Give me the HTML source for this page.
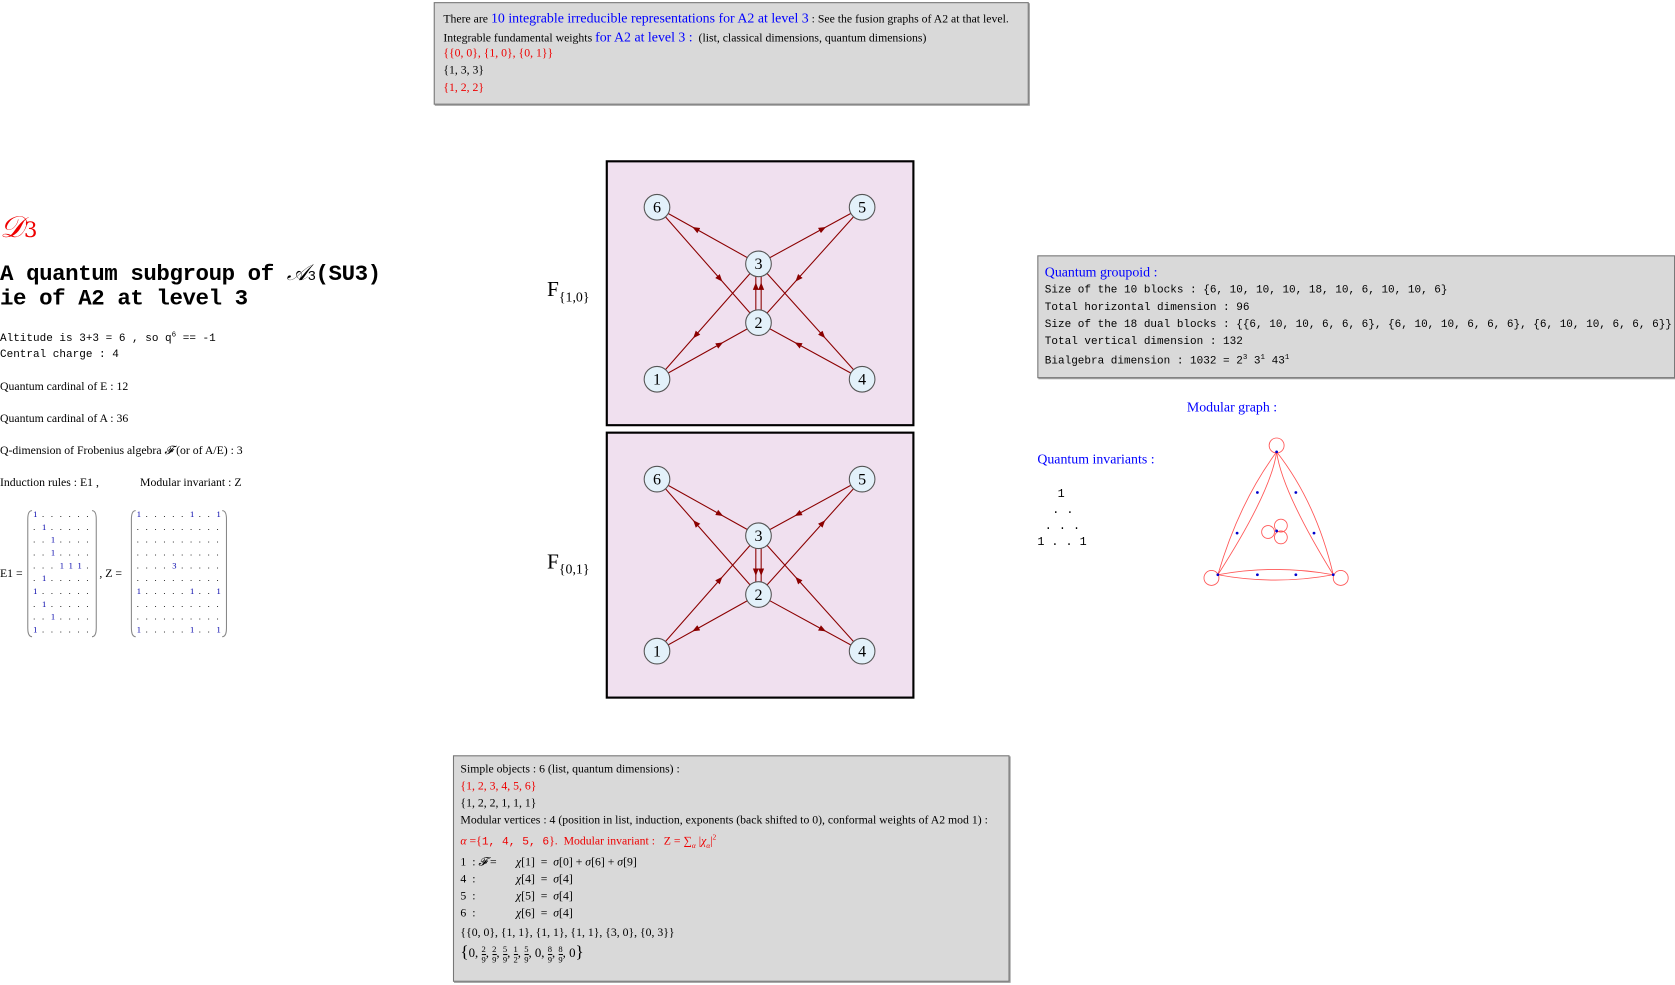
<!DOCTYPE html>
<html><head><meta charset="utf-8"><style>
html,body{margin:0;padding:0;background:#fff;width:1675px;height:985px;overflow:hidden}
#wrap{position:absolute;left:0;top:0;width:1568px;height:922px;transform:scale(1.0683);transform-origin:0 0;font-family:"Liberation Serif",serif;font-size:11px;color:#000}
.a{position:absolute;white-space:nowrap}
.box{position:absolute;background:#d9d9d9;border:1px solid #777;box-shadow:1px 1px 0 #999}
.m{font-family:"Liberation Mono",monospace}
.r{color:#e00}.b{color:#00f}
.gb{position:absolute;background:#f0e0ef;border:2px solid #000}
.fr{display:inline-block;vertical-align:middle;text-align:center;font-size:8px;line-height:9px}
.fr span{display:block}
</style></head><body>
<div id="wrap">

<div class="box" style="left:406px;top:2px;width:555px;height:94px">
 <div class="a" style="left:8px;top:6px">There are <span class="b" style="font-size:13px">10 integrable irreducible representations for A2 at level 3</span> : See the fusion graphs of A2 at that level.</div>
 <div class="a" style="left:8px;top:24px">Integrable fundamental weights <span class="b" style="font-size:13px">for A2 at level 3 :</span> &nbsp;(list, classical dimensions, quantum dimensions)</div>
 <div class="a r" style="left:8px;top:41px">{{0, 0}, {1, 0}, {0, 1}}</div>
 <div class="a" style="left:8px;top:57px">{1, 3, 3}</div>
 <div class="a r" style="left:8px;top:73px">{1, 2, 2}</div>
</div>

<div class="a r" style="left:0;top:196px;font-size:28px;font-style:italic;font-family:'DejaVu Serif',serif">𝒟<span style="font-size:20px;font-style:normal">3</span></div>
<div class="a m" style="left:0;top:243px;font-size:21px;font-weight:bold;letter-spacing:-0.4px">A quantum subgroup of <i style="font-family:'Liberation Serif',serif;font-weight:normal">𝒜</i><span style="font-size:13px;font-weight:normal">3</span>(SU3)</div>
<div class="a m" style="left:0;top:269px;font-size:21px;font-weight:bold;letter-spacing:-0.4px">ie of A2 at level 3</div>
<div class="a m" style="left:0;top:310px;font-size:10.3px">Altitude is 3+3 = 6 , so q<sup style="font-size:7px">6</sup> == -1</div>
<div class="a m" style="left:0;top:326px;font-size:10.3px">Central charge : 4</div>
<div class="a" style="left:0;top:356px">Quantum cardinal of E : 12</div>
<div class="a" style="left:0;top:386px">Quantum cardinal of A : 36</div>
<div class="a" style="left:0;top:416px">Q-dimension of Frobenius algebra <i>𝓕</i> (or of A/E) : 3</div>
<div class="a" style="left:0;top:446px">Induction rules : E1 , &nbsp;&nbsp;&nbsp;&nbsp;&nbsp;&nbsp;&nbsp;&nbsp;&nbsp;&nbsp;&nbsp;&nbsp;&nbsp;Modular invariant : Z</div>

<svg class="a" style="left:0;top:474px" width="230" height="126" id="mats"></svg>

<div class="gb" style="left:567px;top:150px;width:285px;height:245px"></div>
<div class="gb" style="left:567px;top:404px;width:285px;height:246px"></div>
<div class="a" style="left:512px;top:260px;font-size:20px">F<sub style="font-size:13px">{1,0}</sub></div>
<div class="a" style="left:512px;top:515px;font-size:20px">F<sub style="font-size:13px">{0,1}</sub></div>
<svg class="a" style="left:0;top:0" width="1568" height="922" id="graphs"></svg>

<div class="box" style="left:971px;top:239px;width:595px;height:113px">
 <div class="a b" style="left:6px;top:7px;font-size:13px">Quantum groupoid :</div>
 <div class="a m" style="left:6px;top:26px;font-size:10.3px">Size of the 10 blocks : {6, 10, 10, 10, 18, 10, 6, 10, 10, 6}</div>
 <div class="a m" style="left:6px;top:42px;font-size:10.3px">Total horizontal dimension : 96</div>
 <div class="a m" style="left:6px;top:58px;font-size:10.3px">Size of the 18 dual blocks : {{6, 10, 10, 6, 6, 6}, {6, 10, 10, 6, 6, 6}, {6, 10, 10, 6, 6, 6}}</div>
 <div class="a m" style="left:6px;top:74px;font-size:10.3px">Total vertical dimension : 132</div>
 <div class="a m" style="left:6px;top:91px;font-size:10.3px">Bialgebra dimension : 1032 = 2<sup style="font-size:7px">3</sup> 3<sup style="font-size:7px">1</sup> 43<sup style="font-size:7px">1</sup></div>
</div>
<div class="a b" style="left:1111px;top:373px;font-size:13px">Modular graph :</div>
<div class="a b" style="left:971px;top:422px;font-size:13px">Quantum invariants :</div>
<div class="a m" style="left:990px;top:457px">1</div>
<div class="a m" style="left:985px;top:472px">. .</div>
<div class="a m" style="left:978px;top:487px">. . .</div>
<div class="a m" style="left:971px;top:502px">1 . . 1</div>

<div class="box" style="left:424px;top:707px;width:519px;height:210px">
 <div class="a" style="left:6px;top:6px">Simple objects : 6 (list, quantum dimensions) :</div>
 <div class="a r" style="left:6px;top:22px">{1, 2, 3, 4, 5, 6}</div>
 <div class="a" style="left:6px;top:38px">{1, 2, 2, 1, 1, 1}</div>
 <div class="a" style="left:6px;top:54px">Modular vertices : 4 (position in list, induction, exponents (back shifted to 0), conformal weights of A2 mod 1) :</div>
 <div class="a r" style="left:6px;top:72px"><i>α</i> ={<span class="m" style="font-size:10.5px">1, 4, 5, 6</span>}. &nbsp;Modular invariant : &nbsp; Z = ∑<sub style="font-size:7px"><i>α</i></sub> |<i>χ</i><sub style="font-size:7px"><i>α</i></sub>|<sup style="font-size:7px">2</sup></div>
 <div class="a" style="left:6px;top:93px">1 &nbsp;: <i>𝓕</i> =</div>
 <div class="a" style="left:6px;top:109px">4 &nbsp;:</div>
 <div class="a" style="left:6px;top:125px">5 &nbsp;:</div>
 <div class="a" style="left:6px;top:141px">6 &nbsp;:</div>
 <div class="a" style="left:58px;top:93px"><i>χ</i>[1] &nbsp;= &nbsp;<i>σ</i>[0] + <i>σ</i>[6] + <i>σ</i>[9]</div>
 <div class="a" style="left:58px;top:109px"><i>χ</i>[4] &nbsp;= &nbsp;<i>σ</i>[4]</div>
 <div class="a" style="left:58px;top:125px"><i>χ</i>[5] &nbsp;= &nbsp;<i>σ</i>[4]</div>
 <div class="a" style="left:58px;top:141px"><i>χ</i>[6] &nbsp;= &nbsp;<i>σ</i>[4]</div>
 <div class="a" style="left:6px;top:159px">{{0, 0}, {1, 1}, {1, 1}, {1, 1}, {3, 0}, {0, 3}}</div>
 <div class="a" style="left:6px;top:175px;font-size:12px"><span style="font-size:16px">{</span>0, <span class="fr"><span style="border-bottom:1px solid #000">2</span><span>9</span></span>, <span class="fr"><span style="border-bottom:1px solid #000">2</span><span>9</span></span>, <span class="fr"><span style="border-bottom:1px solid #000">5</span><span>9</span></span>, <span class="fr"><span style="border-bottom:1px solid #000">1</span><span>2</span></span>, <span class="fr"><span style="border-bottom:1px solid #000">5</span><span>9</span></span>, 0, <span class="fr"><span style="border-bottom:1px solid #000">8</span><span>9</span></span>, <span class="fr"><span style="border-bottom:1px solid #000">8</span><span>9</span></span>, 0<span style="font-size:16px">}</span></div>
</div>
</div>
<script>
const NS='http://www.w3.org/2000/svg';
function mk(p,t,a){const e=document.createElementNS(NS,t);for(const k in a)e.setAttribute(k,a[k]);p.appendChild(e);return e;}
const E1rows=["1......",".1.....","..1....","..1....","...111.",".1.....","1......",".1.....","..1....","1......"];
const Zrows=["1.....1..1","..........","..........","..........","....3.....","..........","1.....1..1","..........","..........","1.....1..1"];
const mats=document.getElementById('mats');
function matrix(x0,rows,label,lx){
  const t=mk(mats,'text',{x:lx,y:66,'font-size':11,'font-family':'Liberation Serif'});t.textContent=label;
  const w=rows[0].length*8.3+6;
  mk(mats,'path',{d:`M${x0+4},4 Q${x0},4 ${x0},12 L${x0},114 Q${x0},122 ${x0+4},122`,fill:'none',stroke:'#888'});
  mk(mats,'path',{d:`M${x0+w-4},4 Q${x0+w},4 ${x0+w},12 L${x0+w},114 Q${x0+w},122 ${x0+w-4},122`,fill:'none',stroke:'#888'});
  rows.forEach((r,i)=>{[...r].forEach((c,j)=>{
    const e=mk(mats,'text',{x:x0+5+j*8.3,y:10+i*12,'font-size':8,fill:c==='.'?'#000':'#00a','font-family':'Liberation Serif'});
    e.textContent=c;});});
}
matrix(26,E1rows,'E1 =',0);
matrix(123,Zrows,', Z =',93);
const g=document.getElementById('graphs');
mk(g,'defs',{}).innerHTML='<marker id="ar" viewBox="0 0 10 10" refX="5" refY="5" markerWidth="7" markerHeight="7" orient="auto"><path d="M0,1 L10,5 L0,9 z" fill="#8b0000"/></marker>';
const nodeLabels=["1","2","3","4","5","6"];
const nodePos={"1":[615,355],"2":[710,302],"3":[710,247],"4":[807,355],"5":[807,194],"6":[615,194]};
const edges10=[["3","6"],["3","5"],["3","1"],["3","4"],["1","2"],["4","2"],["6","2"],["5","2"],["2","3"]];
const edges01=[["6","3"],["5","3"],["1","3"],["4","3"],["2","1"],["2","4"],["2","6"],["2","5"],["3","2"]];
function graph(edges,dy,name){
  const G=mk(g,'g',{});
  
  
  edges.forEach(([a,b])=>{
    let [x1,y1]=nodePos[a],[x2,y2]=nodePos[b];y1+=dy;y2+=dy;
    const dbl=(a==='2'&&b==='3')||(a==='3'&&b==='2');
    const offs=dbl?[-2.5,2.5]:[0];
    const f=dbl?0.62:0.62;
    offs.forEach(o=>{
      const mx=x1+(x2-x1)*f,my=y1+(y2-y1)*f;
      mk(G,'path',{d:`M${x1+o},${y1} L${mx+o},${my} L${x2+o},${y2}`,stroke:'#8b0000','stroke-width':1,fill:'none','marker-mid':'url(#ar)'});
    });
  });
  nodeLabels.forEach(l=>{
    const [x,y]=nodePos[l];
    const c=mk(G,'circle',{cx:x,cy:y+dy,r:12,fill:'#e3f1fa',stroke:'#555','stroke-width':1});
    
    
    const t=mk(G,'text',{x:x,y:y+dy+5,'text-anchor':'middle','font-size':15,'font-family':'Liberation Serif'});t.textContent=l;
  });
}
graph(edges10,0,'graph-f10');
graph(edges01,254.5,'graph-f01');
const M=mk(g,'g',{stroke:'#f55',fill:'none','stroke-width':0.8});


const T=[1195,423],L=[1140,538],R=[1248,538],C=[1195,497];
mk(M,'path',{d:`M${T} Q1160,470 ${L} Q1190,460 ${T}`});
mk(M,'path',{d:`M${T} Q1232,470 ${R} Q1200,460 ${T}`});
mk(M,'path',{d:`M${L} Q1194,528 ${R} Q1194,548 ${L}`});
mk(M,'circle',{cx:1195,cy:417,r:7});mk(M,'circle',{cx:1134,cy:541,r:7});mk(M,'circle',{cx:1255,cy:541,r:7});
mk(M,'circle',{cx:1187,cy:498,r:6});mk(M,'circle',{cx:1199,cy:492,r:6});mk(M,'circle',{cx:1199,cy:503,r:6});
const dots=[T,L,R,C,[1177,461],[1213,461],[1158,499],[1230,499],[1177,538],[1213,538]];
dots.forEach(d=>mk(g,'circle',{cx:d[0],cy:d[1],r:1.3,fill:'#00c'}));
</script>
</body></html>
